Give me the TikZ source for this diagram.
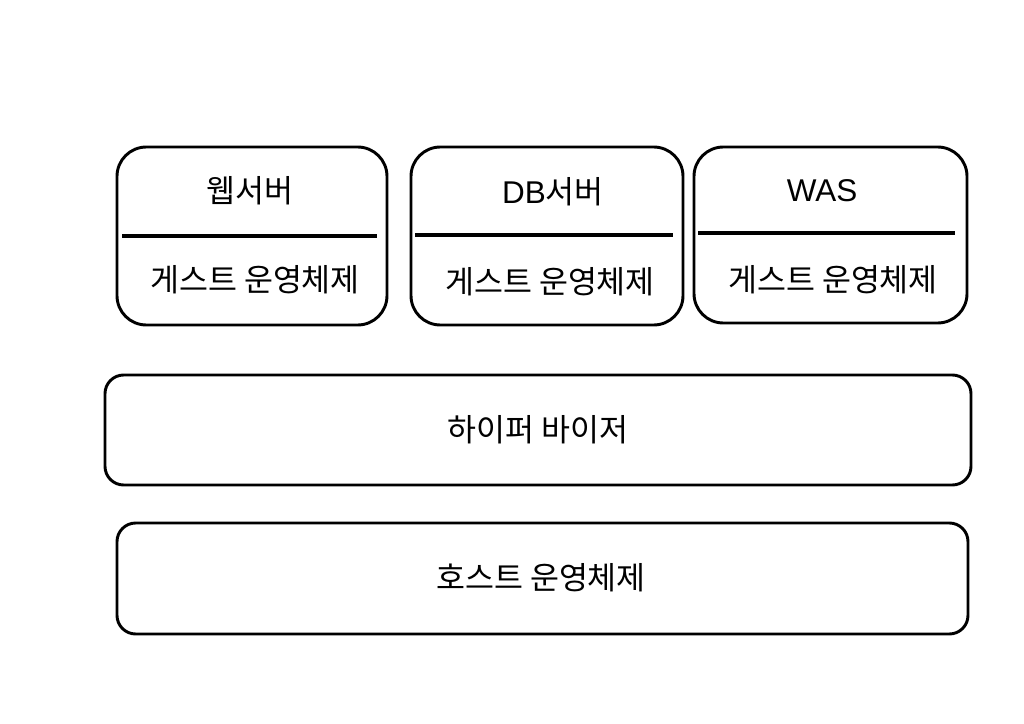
\documentclass[tikz,border=0pt]{standalone}
\usepackage{fontspec}
\setmainfont{Noto Sans CJK KR}
\newfontfamily\latinfont{Liberation Sans}
\usetikzlibrary{calc}

\begin{document}
\begin{tikzpicture}[x=0.75pt,y=-0.75pt]
\useasboundingbox (0,0) rectangle (1024,724);
\tikzset{vmbox/.style={draw, line width=2.2pt, rounded corners=22pt},
  layerbox/.style={draw, line width=2.2pt, rounded corners=14pt},
  divider/.style={line width=2.6pt},
  label/.style={font=\fontsize{23.6}{28}\selectfont, inner sep=0pt}}
% guest boxes
\draw[vmbox] (117,147) rectangle (387,325);
\draw[vmbox] (411,147) rectangle (683,325);
\draw[vmbox] (694,147) rectangle (967,323);
\coordinate (w1) at (122,236);
\coordinate (w2) at (377,236);
\coordinate (d1) at (415,235);
\coordinate (d2) at (673,235);
\coordinate (a1) at (698,233);
\coordinate (a2) at (955,233);
\draw[divider] (w1) -- (w2);
\draw[divider] (d1) -- (d2);
\draw[divider] (a1) -- (a2);
\node[label] (web) at (250,191) {웹서버};
\node[label] (db) at (553,192) {{\latinfont DB}서버};
\node[label] (was) at (822,191) {\latinfont WAS};
\node[label] (webos) at (255,280) {게스트 운영체제};
\node[label] (dbos) at (550,282) {게스트 운영체제};
\node[label] (wasos) at (833,280) {게스트 운영체제};
% lower layers
\draw[layerbox] (105,375) rectangle (971,485);
\draw[layerbox] (117,523) rectangle (968,634);
\node[label] (hyper) at (538,430) {하이퍼 바이저};
\node[label] (host) at (541,578) {호스트 운영체제};
\end{tikzpicture}
\end{document}
